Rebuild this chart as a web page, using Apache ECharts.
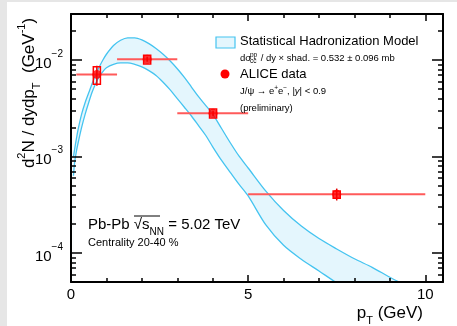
<!DOCTYPE html>
<html><head><meta charset="utf-8">
<script src="https://cdn.jsdelivr.net/npm/echarts@6/dist/echarts.min.js"></script>
<style>html,body{margin:0;padding:0;background:#fff}#c{width:457px;height:326px}</style>
</head><body><div id="c"></div>
<script>
// ---- model band (Statistical Hadronization Model) ----
const modelPt = [0.07, 0.1, 0.15, 0.2, 0.3, 0.4, 0.5, 0.6, 0.7, 0.8, 0.9, 1.0, 1.2, 1.4, 1.6, 1.8, 2.0, 2.2, 2.4, 2.6, 2.8, 3.0, 3.2, 3.4, 3.6, 3.8, 4.0, 4.25, 4.5, 4.75, 5.0, 5.5, 6.0, 6.5, 7.0, 7.5, 8.0, 8.5, 9.0, 9.5];
const shmUpper = [1.00e-3, 1.175e-3, 1.51e-3, 1.905e-3, 2.75e-3, 3.63e-3, 4.57e-3, 5.75e-3, 7.08e-3, 8.51e-3, 1.0e-2, 1.148e-2, 1.413e-2, 1.603e-2, 1.70e-2, 1.70e-2, 1.62e-2, 1.48e-2, 1.318e-2, 1.148e-2, 9.77e-3, 8.13e-3, 6.61e-3, 5.25e-3, 4.17e-3, 3.39e-3, 2.75e-3, 1.95e-3, 1.38e-3, 1.0e-3, 7.6e-4, 4.37e-4, 2.75e-4, 1.9e-4, 1.41e-4, 1.10e-4, 8.7e-5, 7.1e-5, 5.6e-5, 4.5e-5];
const shmLower = [6.31e-4, 8.51e-4, 1.12e-3, 1.38e-3, 2.0e-3, 2.75e-3, 3.63e-3, 4.68e-3, 5.75e-3, 6.76e-3, 7.59e-3, 8.32e-3, 9.02e-3, 9.33e-3, 9.33e-3, 9.02e-3, 8.51e-3, 7.76e-3, 6.92e-3, 5.89e-3, 4.90e-3, 3.98e-3, 3.24e-3, 2.63e-3, 2.09e-3, 1.66e-3, 1.26e-3, 9.1e-4, 6.8e-4, 5.1e-4, 3.9e-4, 1.95e-4, 1.2e-4, 8.6e-5, 6.5e-5, 4.9e-5, 3.8e-5, 2.9e-5, 2.25e-5, 1.75e-5];
// ---- ALICE data ----
const dataPt   = [0.73, 2.15, 4.01, 7.5];
const dataY    = [7.1e-3, 1.02e-2, 2.8e-3, 4.05e-4];
const binLo    = [0.15, 1.3, 3.0, 5.0];
const binHi    = [1.3, 3.0, 5.0, 10.0];
const statLo   = [5.4e-3, 9.6e-3, 2.62e-3, 3.5e-4];
const statHi   = [8.7e-3, 1.08e-2, 2.98e-3, 4.65e-4];
const systLo   = [5.6e-3, 9.1e-3, 2.5e-3, 3.7e-4];
const systHi   = [8.5e-3, 1.12e-2, 3.1e-3, 4.4e-4];
// ---- axes ----
const xMajorTicks = [0, 5, 10];
const xMinorTicks = [1, 2, 3, 4, 6, 7, 8, 9];
const yMajorTicks = [1e-4, 1e-3, 1e-2];
const yMinorTicks = [6e-5, 7e-5, 8e-5, 9e-5, 2e-4, 3e-4, 4e-4, 5e-4, 6e-4, 7e-4, 8e-4, 9e-4, 2e-3, 3e-3, 4e-3, 5e-3, 6e-3, 7e-3, 8e-3, 9e-3, 2e-2];
const xRange = [0, 10.5];
const yRange = [5e-5, 3e-2];

const L = Math.log10;
const FONT = '"Liberation Sans", Arial, Helvetica, sans-serif';
const chart = echarts.init(document.getElementById('c'));
const gridRect = {left: 71, top: 14, right: 14, bottom: 44};

function xAx(gi, pos, ticks, len, labels, line) {
  return {type: 'value', gridIndex: gi, position: pos, min: xRange[0], max: xRange[1], z: 6,
    axisLine: {show: line, onZero: false, lineStyle: {color: '#000', width: 2}},
    axisTick: {show: true, inside: true, length: len, customValues: ticks, lineStyle: {color: '#000', width: 1.5}},
    axisLabel: {show: !!labels, customValues: labels || [], margin: 5, fontFamily: FONT, fontSize: 15, color: '#000'},
    splitLine: {show: false}};
}
function yAx(gi, pos, ticks, len, labels, line) {
  return {type: 'value', gridIndex: gi, position: pos, min: L(yRange[0]), max: L(yRange[1]), z: 6,
    axisLine: {show: line, onZero: false, lineStyle: {color: '#000', width: 2}},
    axisTick: {show: true, inside: true, length: len, customValues: ticks.map(L), lineStyle: {color: '#000', width: 1.5}},
    axisLabel: {show: !!labels, customValues: (labels || []).map(L), margin: 8,
      formatter: v => '{b|10}{s|\u2212' + Math.round(-v) + '}',
      rich: {b: {fontFamily: FONT, fontSize: 15, color: '#000', lineHeight: 22, verticalAlign: 'bottom'},
             s: {fontFamily: FONT, fontSize: 10, color: '#000', lineHeight: 22, verticalAlign: 'top'}}},
    splitLine: {show: false}};
}

const upperPts = modelPt.map((x, i) => [x, L(shmUpper[i])]);
const lowerPts = modelPt.map((x, i) => [x, L(shmLower[i])]);
const errData = dataPt.map((x, i) => [x, L(dataY[i]), binLo[i], binHi[i], L(statLo[i]), L(statHi[i]), L(systLo[i]), L(systHi[i])]);

const BLUE = '#45c4f0';
const txt = (x, y, text, size, extra) => ({type: 'text', x: x, y: y, z: 10, style: Object.assign({text: text, font: size + 'px ' + FONT, fill: '#000', textVerticalAlign: 'middle', verticalAlign: 'middle'}, extra || {})});

chart.setOption({
  animation: false,
  backgroundColor: '#fff',
  grid: [Object.assign({}, gridRect), Object.assign({}, gridRect)],
  xAxis: [xAx(0, 'bottom', xMajorTicks, 7, xMajorTicks, true), xAx(0, 'top', xMajorTicks, 7, null, true),
          xAx(1, 'bottom', xMinorTicks, 4, null, false), xAx(1, 'top', xMinorTicks, 4, null, false)],
  yAxis: [yAx(0, 'left', yMajorTicks, 11, yMajorTicks, true), yAx(0, 'right', yMajorTicks, 11, null, true),
          yAx(1, 'left', yMinorTicks, 5, null, false), yAx(1, 'right', yMinorTicks, 5, null, false)],
  series: [
    {type: 'line', xAxisIndex: 0, yAxisIndex: 0, data: upperPts, symbol: 'none', smooth: 0.3, clip: true,
     lineStyle: {color: BLUE, width: 1.3}, areaStyle: {color: '#e4f6fd', opacity: 1, origin: 'start'}, z: 1},
    {type: 'line', xAxisIndex: 0, yAxisIndex: 0, data: lowerPts, symbol: 'none', smooth: 0.3, clip: true,
     lineStyle: {color: BLUE, width: 1.3}, areaStyle: {color: '#ffffff', opacity: 1, origin: 'start'}, z: 2},
    {type: 'custom', xAxisIndex: 0, yAxisIndex: 0, data: errData, clip: true, z: 3,
     encode: {x: 0, y: 1},
     renderItem: function (params, api) {
       const x = api.value(0), y = api.value(1);
       const a = api.coord([api.value(2), y]), b = api.coord([api.value(3), y]);
       const s1 = api.coord([x, api.value(4)]), s2 = api.coord([x, api.value(5)]);
       const r1 = api.coord([x - 0.1, api.value(7)]), r2 = api.coord([x + 0.1, api.value(6)]);
       return {type: 'group', children: [
         {type: 'line', shape: {x1: a[0], y1: a[1], x2: b[0], y2: b[1]}, style: {stroke: '#ff5a5a', lineWidth: 2}},
         {type: 'line', shape: {x1: s1[0], y1: s1[1], x2: s2[0], y2: s2[1]}, style: {stroke: '#e00000', lineWidth: 1.5}},
         {type: 'rect', shape: {x: r1[0], y: r1[1], width: r2[0] - r1[0], height: r2[1] - r1[1]}, style: {stroke: '#ff0000', fill: null, lineWidth: 1.5}}
       ]};
     }},
    {type: 'scatter', xAxisIndex: 0, yAxisIndex: 0, data: dataPt.map((x, i) => [x, L(dataY[i])]),
     symbol: 'circle', symbolSize: 9, itemStyle: {color: '#ff0000'}, z: 4}
  ],
  graphic: [
    {type: 'rect', shape: {x: 0, y: 0, width: 7, height: 326}, style: {fill: '#e6e6e6'}, z: 10},
    {type: 'rect', shape: {x: 0, y: 0, width: 457, height: 2}, style: {fill: '#e6e6e6'}, z: 10},
    // legend
    {type: 'rect', shape: {x: 216, y: 37, width: 19, height: 11}, style: {fill: '#e4f6fd', stroke: BLUE, lineWidth: 1.2}, z: 10},
    txt(240, 41, 'Statistical Hadronization Model', 13),
    txt(240, 58, 'd\u03c3', 9.5),
    txt(250, 55, 'pp', 6.5),
    txt(250, 61, 'cc\u0304', 6.5),
    txt(258, 58, ' / dy \u00d7 shad. = 0.532 \u00b1 0.096 mb', 9.5),
    {type: 'circle', shape: {cx: 225, cy: 74, r: 4.5}, style: {fill: '#ff0000'}, z: 10},
    txt(240, 74, 'ALICE data', 13),
    {type: 'text', x: 240, y: 91, z: 10, style: {text: 'J/\u03c8 \u2192 e{s|+}e{s|\u2212}, |{i|y}| < 0.9', font: '9.5px ' + FONT, fill: '#000', textVerticalAlign: 'middle', verticalAlign: 'middle',
      rich: {s: {fontSize: 6.5, fontFamily: FONT, verticalAlign: 'top', lineHeight: 12}, i: {fontSize: 9.5, fontFamily: FONT, fontStyle: 'italic'}}}},
    txt(240, 108, '(preliminary)', 9.5),
    // system label
    {type: 'text', x: 88, y: 225, z: 10, style: {text: 'Pb-Pb \u221as{sb|NN} = 5.02 TeV', font: '15px ' + FONT, fill: '#000', textVerticalAlign: 'middle', verticalAlign: 'middle',
      rich: {sb: {fontSize: 10, fontFamily: FONT, verticalAlign: 'bottom', lineHeight: 24}}}},
    {type: 'line', shape: {x1: 134, y1: 216, x2: 160, y2: 216}, style: {stroke: '#000', lineWidth: 1}, z: 10},
    txt(88, 243, 'Centrality 20-40 %', 11),
    // axis titles
    {type: 'text', x: 423, y: 313, z: 10, style: {text: 'p{sb|T} (GeV)', font: '17px ' + FONT, fill: '#000', textAlign: 'right', align: 'right', textVerticalAlign: 'middle', verticalAlign: 'middle',
      rich: {sb: {fontSize: 11, fontFamily: FONT, verticalAlign: 'bottom', lineHeight: 26}}}},
    {type: 'text', x: 29, y: 93, rotation: Math.PI / 2, z: 10,
     style: {text: 'd{sp|2}N / dydp{sb|T}  (GeV{sp|-1})', font: '17px ' + FONT, fill: '#000', textAlign: 'center', align: 'center', textVerticalAlign: 'middle', verticalAlign: 'middle',
      rich: {sp: {fontSize: 11, fontFamily: FONT, verticalAlign: 'top', lineHeight: 26}, sb: {fontSize: 11, fontFamily: FONT, verticalAlign: 'bottom', lineHeight: 26}}}}
  ]
});
</script></body></html>
